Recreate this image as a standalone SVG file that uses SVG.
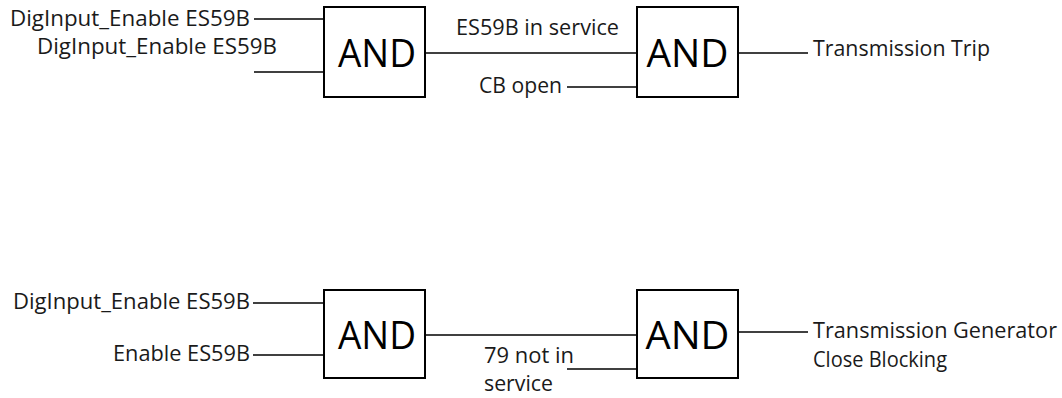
<svg xmlns="http://www.w3.org/2000/svg" width="1062" height="398" viewBox="0 0 1062 398">
<style>
  .box { fill: #ffffff; stroke: #000000; stroke-width: 2; }
  .gate { font-family: "Open Sans", "Noto Sans", sans-serif; font-size: 38px; fill: #000000; text-anchor: middle; }
  .lbl { font-family: "Open Sans", "Noto Sans", sans-serif; font-size: 21px; fill: #1a1a1a; }
  .wire { stroke: #000000; stroke-width: 1.3; fill: none; }
</style>
<rect width="1062" height="398" fill="#ffffff"/>

<g id="connectors">
  <line class="wire" x1="254" y1="19" x2="324" y2="19"/>
  <line class="wire" x1="254" y1="72" x2="324" y2="72"/>
  <line class="wire" x1="425" y1="53" x2="637" y2="53"/>
  <line class="wire" x1="567" y1="87" x2="637" y2="87"/>
  <line class="wire" x1="738" y1="53" x2="808" y2="53"/>

  <line class="wire" x1="253" y1="303" x2="324" y2="303"/>
  <line class="wire" x1="253" y1="355" x2="324" y2="355"/>
  <line class="wire" x1="425" y1="335" x2="637" y2="335"/>
  <line class="wire" x1="567" y1="369" x2="637" y2="369"/>
  <line class="wire" x1="738" y1="332" x2="808" y2="332"/>
</g>

<g id="and1">
  <rect class="box" x="324" y="7" width="101" height="90"/>
  <text class="gate" x="377" y="67" textLength="78" lengthAdjust="spacingAndGlyphs">AND</text>
</g>
<g id="and2">
  <rect class="box" x="637" y="7" width="101" height="90"/>
  <text class="gate" x="687.5" y="67" textLength="82" lengthAdjust="spacingAndGlyphs">AND</text>
</g>
<g id="and3">
  <rect class="box" x="324" y="290" width="101" height="88"/>
  <text class="gate" x="377" y="349" textLength="78" lengthAdjust="spacingAndGlyphs">AND</text>
</g>
<g id="and4">
  <rect class="box" x="637" y="290" width="101" height="88"/>
  <text class="gate" x="687.5" y="349" textLength="84" lengthAdjust="spacingAndGlyphs">AND</text>
</g>

<g id="labels">
  <text class="lbl" x="10" y="26" textLength="240" lengthAdjust="spacingAndGlyphs">DigInput_Enable ES59B</text>
  <text class="lbl" x="37" y="54" textLength="240" lengthAdjust="spacingAndGlyphs">DigInput_Enable ES59B</text>
  <text class="lbl" x="456" y="35" textLength="163" lengthAdjust="spacingAndGlyphs">ES59B in service</text>
  <text class="lbl" x="479" y="93" textLength="83" lengthAdjust="spacingAndGlyphs">CB open</text>
  <text class="lbl" x="813" y="56" textLength="177" lengthAdjust="spacingAndGlyphs">Transmission Trip</text>

  <text class="lbl" x="13" y="309" textLength="237" lengthAdjust="spacingAndGlyphs">DigInput_Enable ES59B</text>
  <text class="lbl" x="113" y="361" textLength="137" lengthAdjust="spacingAndGlyphs">Enable ES59B</text>
  <text class="lbl" x="484" y="363" textLength="90" lengthAdjust="spacingAndGlyphs">79 not in</text>
  <text class="lbl" x="484" y="391" textLength="69" lengthAdjust="spacingAndGlyphs">service</text>
  <text class="lbl" x="813" y="338" textLength="244" lengthAdjust="spacingAndGlyphs">Transmission Generator</text>
  <text class="lbl" x="813" y="367" textLength="134" lengthAdjust="spacingAndGlyphs">Close Blocking</text>
</g>
</svg>
